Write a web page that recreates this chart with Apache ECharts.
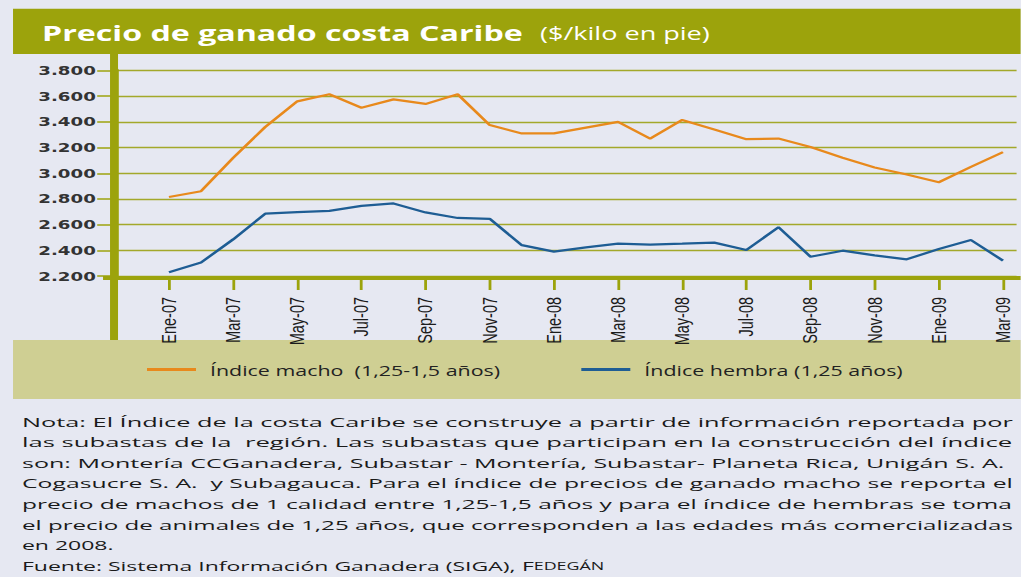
<!DOCTYPE html>
<html>
<head>
<meta charset="UTF-8">
<title>Precio de ganado costa Caribe</title>
<script src="https://cdn.jsdelivr.net/npm/echarts@6/dist/echarts.min.js"></script>
<style>
    html, body { margin: 0; padding: 0; overflow: hidden; background: #e6e8f2; }
    /* the original graphic is stretched sideways, so the chart is drawn narrower and widened */
    #container { width: 729.3px; height: 577px; transform: scaleX(1.4); transform-origin: 0 0; }
</style>
</head>
<body>
<div id="container"></div>
<script>
    var months = ['Ene-07', 'Feb-07', 'Mar-07', 'Abr-07', 'May-07', 'Jun-07', 'Jul-07', 'Ago-07', 'Sep-07', 'Oct-07', 'Nov-07', 'Dic-07',
        'Ene-08', 'Feb-08', 'Mar-08', 'Abr-08', 'May-08', 'Jun-08', 'Jul-08', 'Ago-08', 'Sep-08', 'Oct-08', 'Nov-08', 'Dic-08',
        'Ene-09', 'Feb-09', 'Mar-09'];
    var macho = [2815, 2860, 3120, 3360, 3560, 3615, 3510, 3575, 3540, 3615, 3375, 3310,
        3310, 3355, 3400, 3270, 3415, 3340, 3265, 3270, 3205, 3120, 3045, 2990,
        2930, 3050, 3165];
    var hembra = [2230, 2305, 2485, 2685, 2697, 2707, 2746, 2765, 2695, 2652, 2645, 2440,
        2390, 2423, 2452, 2445, 2452, 2460, 2402, 2580, 2350, 2397, 2360, 2330,
        2410, 2480, 2320];
    var labelMonths = [0, 2, 4, 6, 8, 10, 12, 14, 16, 18, 20, 22, 24, 26];
    var names = ['Índice macho  (1,25-1,5 años)', 'Índice hembra (1,25 años)'];
    var notas = [
        'Nota: El Índice de la costa Caribe se construye a partir de información reportada por',
        'las subastas de la  región. Las subastas que participan en la construcción del índice',
        'son: Montería CCGanadera, Subastar - Montería, Subastar- Planeta Rica, Unigán S. A.',
        'Cogasucre S. A.  y Subagauca. Para el índice de precios de ganado macho se reporta el',
        'precio de machos de 1 calidad entre 1,25-1,5 años y para el índice de hembras se toma',
        'el precio de animales de 1,25 años, que corresponden a las edades más comercializadas',
        'en 2008.'
    ];
    var fuente = 'Fuente: Sistema Información Ganadera (SIGA), {a|F}{b|EDEGÁN}';

    var olive = '#9ca30c';
    var noteFont = '13.5px "Open Sans"';

    var ctx = document.createElement('canvas').getContext('2d');
    function fit(text, font, width) {
        ctx.font = font;
        return width / ctx.measureText(text).width;
    }

    var graphics = [
        { type: 'rect', z: 0, shape: { x: 9.3, y: 8.7, width: 730, height: 45.3 }, style: { fill: olive } },
        { type: 'rect', z: 0, shape: { x: 9.3, y: 340, width: 730, height: 59 }, style: { fill: '#cfcf93' } },
        { type: 'rect', z: 50, shape: { x: 78.6, y: 54, width: 5.7, height: 286 }, style: { fill: olive } },
        { type: 'rect', z: 50, shape: { x: 73.6, y: 276, width: 660, height: 4 }, style: { fill: olive } },
        {
            type: 'text', z: 5, x: 30, y: 33,
            scaleX: fit('Precio de ganado costa Caribe', 'bold 22px "Open Sans"', 343.6),
            style: { text: 'Precio de ganado costa Caribe', font: 'bold 22px "Open Sans"', fill: '#ffffff', align: 'left', verticalAlign: 'middle' }
        },
        {
            type: 'text', z: 5, x: 385.7, y: 33,
            scaleX: fit('($/kilo en pie)', '19px "Open Sans"', 121.4),
            style: { text: '($/kilo en pie)', font: '19px "Open Sans"', fill: '#ffffff', align: 'left', verticalAlign: 'middle' }
        }
    ];

    var lastScale = fit('en 2008.', noteFont, 65.4);
    notas.forEach(function (line, i) {
        var w = i === 2 ? 702 : 708;
        graphics.push({
            type: 'text', z: 5, x: 15.7, y: 421.5 + i * 20.57,
            scaleX: i < 6 ? fit(line, noteFont, w) : lastScale,
            style: { text: line, font: noteFont, fill: '#1a1a1a', align: 'left', verticalAlign: 'middle' }
        });
    });
    graphics.push({
        type: 'text', z: 5, x: 15.7, y: 421.5 + 7 * 20.57, scaleX: lastScale,
        style: {
            text: fuente, font: noteFont, fill: '#1a1a1a', align: 'left', verticalAlign: 'middle',
            rich: {
                a: { fontFamily: 'Open Sans', fontSize: 13.5, fill: '#1a1a1a' },
                b: { fontFamily: 'Open Sans', fontSize: 10.5, fill: '#1a1a1a' }
            }
        }
    });

    var myChart = echarts.init(document.getElementById('container'), null, { renderer: 'svg' });
    myChart.setOption({
        backgroundColor: '#e6e8f2',
        animation: false,
        grid: { left: 81.43, right: 2.87, top: 70.5, bottom: 301 },
        legend: {
            left: 105, top: 362, padding: 0,
            itemWidth: 35, itemHeight: 3, itemGap: 58,
            icon: 'rect',
            textStyle: { fontFamily: 'Open Sans', fontSize: 15.3, color: '#222', padding: [0, 0, 0, 5] },
            data: names
        },
        xAxis: {
            type: 'value',
            min: -1.7136,
            max: 26.424,
            offset: 2,
            axisLine: { show: true, onZero: false, lineStyle: { color: olive, width: 4 } },
            axisTick: { show: true, customValues: labelMonths, length: 12, lineStyle: { color: olive, width: 2 } },
            axisLabel: {
                customValues: labelMonths,
                rotate: 90,
                margin: 19,
                fontFamily: '"Liberation Sans Narrow", "Liberation Sans"',
                fontSize: 14.5,
                color: '#1c1c1c',
                formatter: function (v) { return months[Math.round(v)]; }
            },
            splitLine: { show: false }
        },
        yAxis: {
            type: 'value',
            min: 2200,
            max: 3800,
            interval: 200,
            axisLine: { show: true, onZero: false, lineStyle: { color: olive, width: 5.7 } },
            axisTick: { show: true, length: 12, lineStyle: { color: olive, width: 1.5 } },
            axisLabel: {
                margin: 13,
                fontFamily: 'DejaVu Sans',
                fontWeight: 'bold',
                fontSize: 13,
                color: '#333333',
                formatter: function (v) { return (v / 1000).toFixed(3); }
            },
            splitLine: { show: true, lineStyle: { color: '#a3a82a', width: 1.3 } }
        },
        series: [
            {
                name: names[0],
                type: 'line',
                showSymbol: false,
                itemStyle: { color: '#e8891c' },
                lineStyle: { color: '#e8891c', width: 2.2 },
                data: macho.map(function (v, i) { return [i, v]; })
            },
            {
                name: names[1],
                type: 'line',
                showSymbol: false,
                itemStyle: { color: '#1e5d94' },
                lineStyle: { color: '#1e5d94', width: 2.2 },
                data: hembra.map(function (v, i) { return [i, v]; })
            }
        ],
        graphic: graphics
    });
</script>
</body>
</html>
